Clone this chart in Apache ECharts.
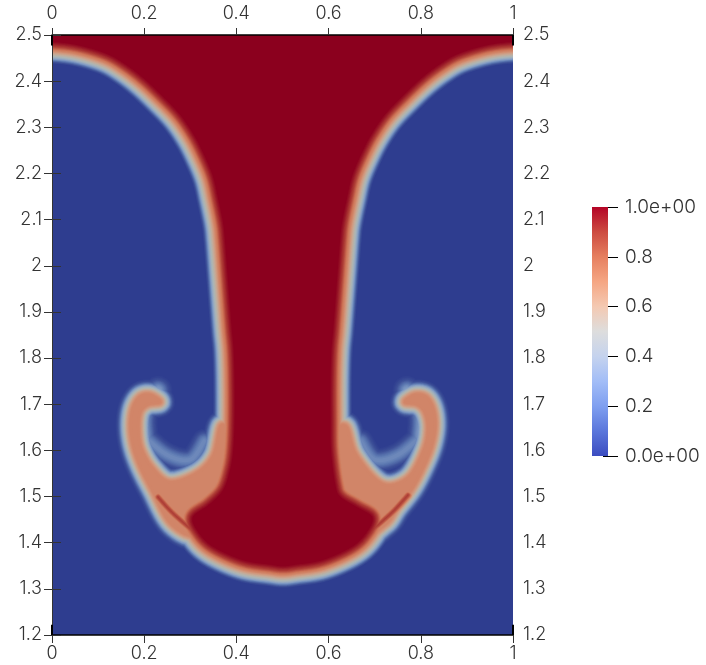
<!DOCTYPE html>
<html><head><meta charset="utf-8">
<style>html,body{margin:0;padding:0;background:#fff}#c{width:706px;height:665px}</style>
<script src="https://cdn.jsdelivr.net/npm/echarts@6/dist/echarts.min.js"></script>
</head><body><div id="c"></div>
<script>
// Iso-structures, in data units [x, y]
const bodyCore = [[-0.048,2.485],[0,2.485],[0.056,2.478],[0.119,2.459],[0.161,2.435],[0.2,2.405],[0.239,2.368],[0.278,2.327],[0.308,2.283],[0.33,2.24],[0.349,2.194],[0.36,2.147],[0.371,2.093],[0.375,2.056],[0.38,1.991],[0.385,1.926],[0.39,1.861],[0.394,1.817],[0.396,1.752],[0.396,1.666],[0.393,1.601],[0.386,1.557],[0.371,1.514],[0.34,1.482],[0.305,1.455],[0.319,1.42],[0.351,1.39],[0.414,1.362],[0.475,1.352],[0.501,1.349],[0.527,1.352],[0.586,1.362],[0.649,1.39],[0.681,1.42],[0.695,1.455],[0.66,1.478],[0.625,1.5],[0.614,1.529],[0.605,1.601],[0.604,1.666],[0.604,1.752],[0.606,1.817],[0.61,1.861],[0.615,1.926],[0.62,1.991],[0.625,2.056],[0.629,2.093],[0.64,2.147],[0.651,2.194],[0.67,2.24],[0.692,2.283],[0.722,2.327],[0.761,2.368],[0.8,2.405],[0.839,2.435],[0.881,2.459],[0.944,2.478],[1,2.485],[1.048,2.485],[1.048,2.56],[-0.048,2.56]];
const capLeft = [[0.234,1.705],[0.213,1.72],[0.191,1.716],[0.176,1.692],[0.171,1.655],[0.176,1.612],[0.191,1.568],[0.217,1.516],[0.26,1.44],[0.321,1.417],[0.386,1.482],[0.399,1.601],[0.369,1.655],[0.351,1.59],[0.315,1.551],[0.256,1.531],[0.217,1.562],[0.193,1.605],[0.187,1.648],[0.191,1.683],[0.208,1.70]];
const capRight = [[0.766,1.705],[0.787,1.72],[0.811,1.716],[0.826,1.692],[0.831,1.655],[0.824,1.612],[0.807,1.568],[0.781,1.518],[0.748,1.475],[0.722,1.44],[0.668,1.417],[0.603,1.514],[0.603,1.622],[0.636,1.653],[0.659,1.59],[0.716,1.527],[0.772,1.54],[0.807,1.601],[0.816,1.648],[0.809,1.683],[0.792,1.70]];
const tailLowerLeft = [[0.23,1.499],[0.26,1.466],[0.304,1.427]];
const tailLowerRight = [[0.772,1.503],[0.738,1.466],[0.694,1.427]];
const haloHeadLeft = [[0.23,1.73],[0.2,1.68],[0.2,1.63]];
const haloHeadRight = [[0.77,1.73],[0.8,1.68],[0.8,1.63]];
const haloHollowLeft = [[0.2,1.63],[0.25,1.59],[0.3,1.58],[0.33,1.62]];
const haloHollowRight = [[0.8,1.63],[0.75,1.59],[0.7,1.58],[0.67,1.62]];

const fieldColors = ['#2e3d8f','#3f5299','#5a76b0','#7f9ac4','#9cadc0','#aeb6b4','#c6ab98','#d39478','#cf7658','#ad3c35','#8b001e'];
const barColors = ['#3b4cc0','#5a76db','#7f9ff0','#a2bdf7','#c5d3ee','#dddddd','#f4c9b2','#f5a683','#e67f5f','#cd4b40','#b40426'];
// fall-off profile of the main interface: share of peak -> share of reach
const profileU = [0,0.1,0.25,0.5,0.75,0.9,0.97,1];
const profileD = [1,0.92,0.82,0.66,0.42,0.22,0.08,0];

// peak = value at the structure, reach = fall-off distance in screen pixels
const shapes = [
  {pts:haloHeadLeft,    closed:false, peak:0.32, reach:17},
  {pts:haloHeadRight,   closed:false, peak:0.32, reach:17},
  {pts:haloHollowLeft,  closed:false, peak:0.26, reach:15},
  {pts:haloHollowRight, closed:false, peak:0.26, reach:15},
  {pts:capLeft,  closed:true, peak:0.76, reach:17, soft:true},
  {pts:capRight, closed:true, peak:0.76, reach:17, soft:true},
  {pts:tailLowerLeft,  closed:false, peak:0.9, reach:12},
  {pts:tailLowerRight, closed:false, peak:0.9, reach:12},
  {pts:bodyCore, closed:true, peak:1, reach:22}
];
const levels = [];
for (let i=1;i<=60;i++) levels.push(i/60);
const cells = [];
levels.forEach(v=>shapes.forEach((s,k)=>{ if(v<=s.peak) cells.push([v,k]); }));

function curve(P,closed){
  const out=[],n=P.length,at=i=>closed?P[(i+n)%n]:P[Math.max(0,Math.min(n-1,i))];
  const last=closed?n:n-1;
  for(let i=0;i<last;i++){
    const a=at(i-1),b=at(i),c=at(i+1),d=at(i+2);
    for(let t=0;t<1;t+=0.125){
      const t2=t*t,t3=t2*t;
      out.push([0,1].map(k=>0.5*(2*b[k]+(c[k]-a[k])*t+(2*a[k]-5*b[k]+4*c[k]-d[k])*t2+(3*b[k]-a[k]-3*c[k]+d[k])*t3)));
    }
  }
  if(!closed) out.push(P[n-1]);
  return out;
}
function bodyFall(u){
  for(let i=1;i<profileU.length;i++) if(u<=profileU[i]){
    const t=(u-profileU[i-1])/(profileU[i]-profileU[i-1]);
    return profileD[i-1]+(profileD[i]-profileD[i-1])*t;
  }
  return 0;
}

const chart = echarts.init(document.getElementById('c'),null,{renderer:'canvas'});
const font = 'Inter';
const axisLabel = {fontFamily:font,fontSize:18,fontWeight:300,color:'#333'};
const common = {min:0,max:1,interval:0.2,splitLine:{show:false},z:5};
const yCommon = {type:'value',min:1.2,max:2.5,interval:0.1,splitLine:{show:false},z:5};
chart.setOption({
  animation:false,
  grid:[
    {left:52,top:35,width:461,height:600,show:true,backgroundColor:fieldColors[0],borderWidth:0},
    {left:592,top:207,width:16,height:249}
  ],
  xAxis:[
    {...common,type:'value',position:'bottom',gridIndex:0,axisLine:{lineStyle:{color:'#000',width:1.5}},axisTick:{length:8,lineStyle:{color:'#333'}},axisLabel:{...axisLabel,margin:10}},
    {...common,type:'value',position:'top',gridIndex:0,axisLine:{lineStyle:{color:'#000',width:1.5}},axisTick:{length:7,lineStyle:{color:'#333'}},axisLabel:{...axisLabel,margin:12}},
    {type:'category',gridIndex:1,data:['f'],show:false}
  ],
  yAxis:[
    {...yCommon,position:'left',gridIndex:0,axisLine:{show:true,lineStyle:{color:'#333',width:1}},axisTick:{length:8,lineStyle:{color:'#333'}},axisLabel:{...axisLabel,margin:10}},
    {...yCommon,position:'right',gridIndex:0,axisLine:{show:false},axisTick:{show:true,length:9,lineStyle:{color:'#333'}},axisLabel:{...axisLabel,margin:10}},
    {type:'value',gridIndex:1,position:'right',offset:-5,min:0,max:1,interval:0.2,splitLine:{show:false},
     axisLine:{show:false},axisTick:{show:true,length:15,lineStyle:{color:'#000',width:1}},
     axisLabel:{fontFamily:font,fontSize:19,fontWeight:300,color:'#333',margin:22,formatter:v=>(v===0||v===1)?v.toFixed(1)+'e+00':v.toFixed(1)}}
  ],
  series:[
    {type:'custom',name:'field',xAxisIndex:0,yAxisIndex:0,clip:true,silent:true,progressive:0,animation:false,
     data:cells,
     renderItem:(p,api)=>{
       const v=api.value(0), s=shapes[api.value(1)];
       const u=Math.min(1,v/s.peak);
       const d=s.reach*((s.closed&&!s.soft)?bodyFall(u):Math.acos(2*u-1)/Math.PI);
       const pts=curve(s.pts.map(q=>api.coord(q)),s.closed);
       const c=echarts.color.lerp(v,fieldColors);
       return {type:s.closed?'polygon':'polyline',
         shape:{points:pts},
         style:{fill:s.closed?c:null,stroke:c,lineWidth:Math.max(2*d,s.closed?0:1),lineJoin:'round',lineCap:'round'}};
     }},
    {type:'line',name:'corners',xAxisIndex:0,yAxisIndex:0,silent:true,symbol:'none',clip:false,z:6,
     lineStyle:{color:'#000',width:2},connectNulls:false,
     data:[[0,2.5],[0,2.477],null,[0,1.2],[0,1.222],null,[1,2.5],[1,2.477],null,[1,1.2],[1,1.222]].map(q=>q||[null,null])},
    {type:'bar',name:'colorbar',xAxisIndex:2,yAxisIndex:2,data:[1],barWidth:'100%',silent:true,
     itemStyle:{color:new echarts.graphic.LinearGradient(0,1,0,0,barColors.map((c,i)=>({offset:i/(barColors.length-1),color:c})))}}
  ]
});
</script></body></html>
